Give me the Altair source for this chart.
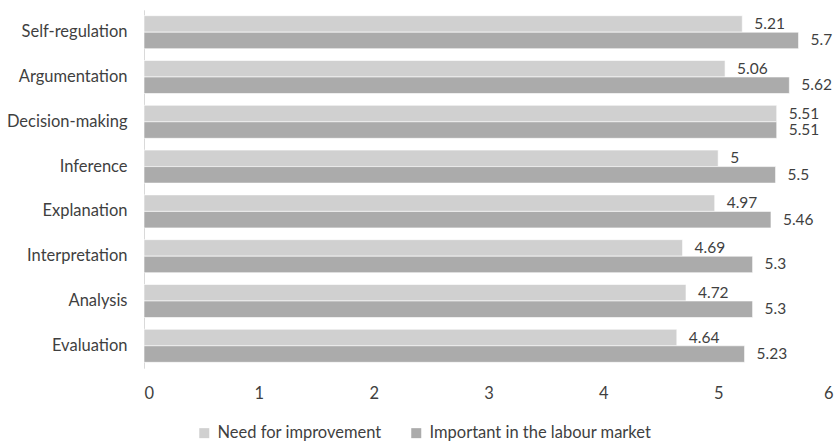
import altair as alt
import pandas as pd

# Skills, listed top to bottom
skills = [
    "Self-regulation",
    "Argumentation",
    "Decision-making",
    "Inference",
    "Explanation",
    "Interpretation",
    "Analysis",
    "Evaluation",
]
series = ["Need for improvement", "Important in the labour market"]
need_for_improvement = [5.21, 5.06, 5.51, 5, 4.97, 4.69, 4.72, 4.64]
important_in_market = [5.7, 5.62, 5.51, 5.5, 5.46, 5.3, 5.3, 5.23]
x_ticks = [0, 1, 2, 3, 4, 5, 6]

rows = []
for skill, a, b in zip(skills, need_for_improvement, important_in_market):
    rows.append({"skill": skill, "series": series[0], "value": a})
    rows.append({"skill": skill, "series": series[1], "value": b})
df = pd.DataFrame(rows)
df["label"] = df["value"].map(lambda v: f"{v:g}")

FONT = "Lato"
TEXT = "#3f3f3f"
FS = 16.5

y_enc = alt.Y(
    "skill:N",
    sort=skills,
    scale=alt.Scale(paddingInner=0.263, paddingOuter=0.1315),
    axis=alt.Axis(
        title=None,
        ticks=False,
        domainColor="#d9d9d9",
        domainWidth=1,
        labelPadding=17,
        labelFontSize=FS,
        labelFont=FONT,
        labelColor=TEXT,
        labelLimit=300,
    ),
)
y_off = alt.YOffset("series:N", sort=series, scale=alt.Scale(paddingInner=0, paddingOuter=0))
x_enc = alt.X(
    "value:Q",
    scale=alt.Scale(domain=[0, 6], nice=False),
    axis=alt.Axis(
        title=None,
        values=x_ticks,
        format="d",
        grid=False,
        domain=False,
        ticks=False,
        labelPadding=17,
        labelFontSize=FS,
        labelFont=FONT,
        labelColor=TEXT,
    ),
)

bars = alt.Chart(df).mark_bar(stroke="#ffffff", strokeWidth=0.6).encode(
    y=y_enc,
    yOffset=y_off,
    x=x_enc,
    color=alt.Color(
        "series:N",
        sort=series,
        scale=alt.Scale(domain=series, range=["#d0d0d0", "#ababab"]),
        legend=alt.Legend(
            title=None,
            orient="none",
            direction="horizontal",
            legendX=52,
            legendY=415,
            symbolType="square",
            symbolSize=100,
            symbolStrokeWidth=0,
            labelOffset=5,
            columnPadding=26,
            labelFontSize=FS,
            labelFont=FONT,
            labelColor=TEXT,
            labelLimit=400,
        ),
    ),
)

labels = alt.Chart(df).mark_text(
    align="left", baseline="middle", dx=12, fontSize=15.5, font=FONT, color=TEXT
).encode(
    y=alt.Y("skill:N", sort=skills),
    yOffset=alt.YOffset("series:N", sort=series),
    x="value:Q",
    text="label:N",
)

chart = (
    alt.layer(bars, labels)
    .properties(
        width=689,
        height=358.4,
        autosize=alt.AutoSizeParams(type="none"),
        padding={"left": 144, "top": 9.8, "right": 7, "bottom": 74},
    )
    .configure(background="white")
    .configure_view(strokeWidth=0)
)

chart.save("out.html", embed_options={"renderer": "svg", "actions": False})
